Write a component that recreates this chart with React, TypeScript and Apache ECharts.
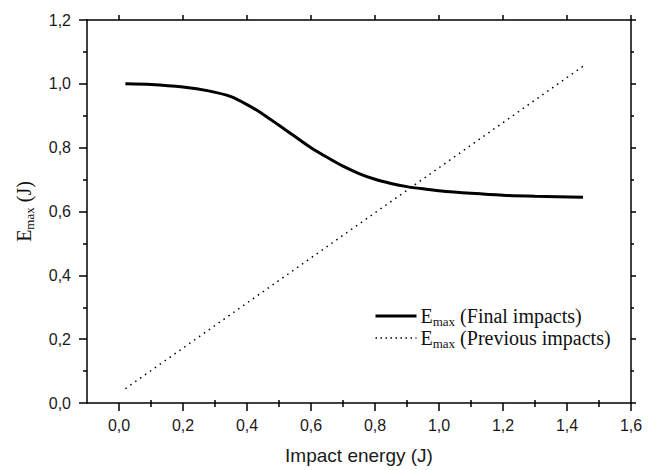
import React, { useEffect, useRef } from "react";
import * as echarts from "echarts";

// Final impacts (solid curve)
const finalX = [0.02, 0.1, 0.2, 0.28, 0.35, 0.4, 0.45, 0.5, 0.55, 0.6, 0.65, 0.7, 0.75, 0.8, 0.85, 0.9, 0.95, 1.0, 1.1, 1.2, 1.3, 1.45];
const finalY = [1.0, 0.998, 0.99, 0.978, 0.96, 0.935, 0.905, 0.87, 0.835, 0.8, 0.77, 0.742, 0.719, 0.701, 0.688, 0.678, 0.671, 0.665, 0.657, 0.651, 0.648, 0.645];

// Previous impacts (dotted straight line)
const prevX = [0.02, 1.45];
const prevY = [0.045, 1.055];

// Axis ticks
const xMajor = [0, 0.2, 0.4, 0.6, 0.8, 1.0, 1.2, 1.4, 1.6];
const xMinor = [0.1, 0.3, 0.5, 0.7, 0.9, 1.1, 1.3, 1.5];

const SANS = "'Liberation Sans', Arial, Helvetica, sans-serif";
const SERIF = "'Liberation Serif', 'Times New Roman', serif";
const fmt = (v: number) => v.toFixed(1).replace(".", ",");

export default function App() {
  const ref = useRef<HTMLDivElement>(null);
  useEffect(() => {
    if (!ref.current) return;
    const chart = echarts.init(ref.current, null, { renderer: "svg" });
    const axisLine = { show: true, onZero: false, lineStyle: { color: "#000", width: 1.5 } };
    const tickStyle = { color: "#000", width: 1.5 };
    const baseX = { type: "value", min: -0.1, max: 1.6, splitLine: { show: false } };
    const rich = {
      e: { fontSize: 20, fontFamily: SERIF, color: "#111", lineHeight: 24, verticalAlign: "middle" },
      s: { fontSize: 13, fontFamily: SERIF, color: "#111", lineHeight: 13, verticalAlign: "bottom" },
    };
    chart.setOption({
      animation: false,
      backgroundColor: "#fff",
      grid: { left: 87, right: 26, top: 20, bottom: 65, containLabel: false },
      legend: {
        orient: "vertical",
        left: 369,
        top: 301,
        itemWidth: 41,
        itemHeight: 12,
        itemGap: 0,
        itemStyle: { color: "rgba(0,0,0,0)", borderColor: "rgba(0,0,0,0)", borderWidth: 0 },
        formatter: (name: string) => `{e|E}{s|max}{e| (${name})}`,
        textStyle: { rich, padding: [0, 0, 0, -1] },
        data: [
          { name: "Final impacts", lineStyle: { width: 3, color: "#000" } },
          { name: "Previous impacts", lineStyle: { width: 1.5, color: "#000", type: [1.5, 3.5] } },
        ],
      },
      xAxis: [
        {
          ...baseX,
          position: "bottom",
          axisLine,
          axisTick: { show: true, customValues: xMajor, length: 8, lineStyle: tickStyle },
          axisLabel: {
            show: true,
            customValues: xMajor,
            formatter: (v: number) => fmt(v),
            margin: 14,
            fontSize: 16,
            fontFamily: SANS,
            color: "#1a1a1a",
          },
          name: "Impact energy (J)",
          nameLocation: "middle",
          nameGap: 43,
          nameTextStyle: { fontSize: 19, fontFamily: SANS, color: "#1a1a1a" },
        },
        {
          ...baseX,
          position: "bottom",
          offset: 0,
          axisLine: { show: false },
          axisTick: { show: true, customValues: xMinor, length: 4, lineStyle: tickStyle },
          axisLabel: { show: false },
        },
        {
          ...baseX,
          position: "top",
          axisLine,
          axisTick: { show: true, customValues: xMajor, length: 5, lineStyle: tickStyle },
          axisLabel: { show: false },
        },
        {
          ...baseX,
          position: "top",
          offset: 0,
          axisLine: { show: false },
          axisTick: { show: true, customValues: xMinor, length: 3, lineStyle: tickStyle },
          axisLabel: { show: false },
        },
      ],
      yAxis: [
        {
          type: "value",
          position: "left",
          min: 0,
          max: 1.2,
          interval: 0.2,
          axisLine,
          axisTick: { show: true, length: 8, lineStyle: tickStyle },
          minorTick: { show: true, splitNumber: 2, length: 4, lineStyle: tickStyle },
          splitLine: { show: false },
          axisLabel: {
            formatter: (v: number) => fmt(v),
            margin: 16,
            fontSize: 16,
            fontFamily: SANS,
            color: "#1a1a1a",
          },
          name: "{e|E}{s|max}{e| (J)}",
          nameLocation: "middle",
          nameRotate: 90,
          nameGap: 51,
          nameTextStyle: { rich },
        },
        {
          type: "value",
          position: "right",
          min: 0,
          max: 1.2,
          interval: 0.2,
          axisLine,
          axisTick: { show: true, length: 5, lineStyle: tickStyle },
          minorTick: { show: true, splitNumber: 2, length: 3, lineStyle: tickStyle },
          splitLine: { show: false },
          axisLabel: { show: false },
        },
      ],
      series: [
        {
          name: "Final impacts",
          type: "line",
          xAxisIndex: 0,
          yAxisIndex: 0,
          data: finalX.map((x, i) => [x, finalY[i]]),
          showSymbol: false,
          symbol: "none",
          smooth: 0.25,
          lineStyle: { color: "#000", width: 3 },
          itemStyle: { color: "#000" },
        },
        {
          name: "Previous impacts",
          type: "line",
          xAxisIndex: 0,
          yAxisIndex: 0,
          data: prevX.map((x, i) => [x, prevY[i]]),
          showSymbol: false,
          symbol: "none",
          lineStyle: { color: "#000", width: 1.5, type: [1.5, 4.5] },
          itemStyle: { color: "#000" },
        },
      ],
    });
    return () => chart.dispose();
  }, []);
  return (
    <div
      ref={ref}
      style={{ position: "fixed", left: 0, top: 0, width: 657, height: 470, background: "#fff" }}
    />
  );
}
